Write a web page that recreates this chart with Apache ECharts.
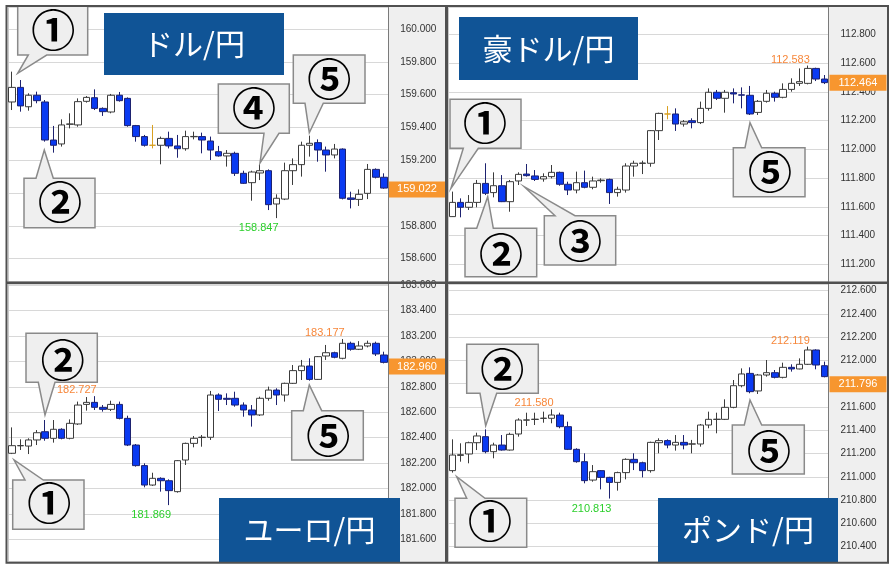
<!DOCTYPE html>
<html><head><meta charset="utf-8">
<script src="https://cdn.jsdelivr.net/npm/echarts@6/dist/echarts.min.js"></script>
<style>html,body{margin:0;padding:0;background:#fff}#c{width:894px;height:566px}</style>
</head><body><div id="c"></div>
<script>
// ---- categories (bar numbers) ----
const bars = ['1','2','3','4','5','6','7','8','9','10','11','12','13','14','15','16','17','18','19','20','21','22','23','24','25','26','27','28','29','30','31','32','33','34','35','36','37','38','39','40','41','42','43','44','45','46'];

// ---- candle values [open, close, low, high] ----
const usdJpy = [
 [159.555,159.644,159.506,159.740],[159.644,159.531,159.496,159.689],[159.526,159.596,159.502,159.608],[159.596,159.563,159.547,159.618],
 [159.555,159.323,159.313,159.567],[159.323,159.291,159.246,159.409],[159.299,159.415,159.283,159.449],[159.419,159.421,159.394,159.486],
 [159.415,159.557,159.404,159.577],[159.559,159.583,159.551,159.591],[159.581,159.516,159.506,159.632],[159.516,159.496,159.470,159.522],
 [159.494,159.596,159.486,159.604],[159.596,159.563,159.557,159.616],[159.577,159.411,159.404,159.583],[159.411,159.344,159.313,159.415],
 [159.344,159.291,159.283,159.354],[159.291,159.291,159.272,159.415],[159.291,159.333,159.175,159.344],[159.333,159.287,159.272,159.374],
 [159.287,159.270,159.215,159.354],[159.270,159.344,159.258,159.380],[159.343,159.345,159.327,159.374],[159.344,159.323,159.242,159.368],
 [159.317,159.262,159.201,159.344],[159.252,159.226,159.222,159.287],[159.226,159.242,159.161,159.262],[159.242,159.120,159.104,159.252],
 [159.120,159.059,159.055,159.136],[159.063,159.128,158.953,159.136],[159.122,159.136,159.079,159.177],[159.136,158.929,158.896,159.144],
 [158.933,158.968,158.847,158.992],[158.963,159.136,158.957,159.185],[159.136,159.173,159.049,159.211],[159.173,159.291,159.100,159.313],
 [159.291,159.303,159.222,159.350],[159.307,159.262,159.191,159.327],[159.262,159.232,159.130,159.283],[159.232,159.268,159.211,159.299],
 [159.268,158.968,158.961,159.272],[158.970,158.961,158.906,159.008],[158.961,158.992,158.921,159.022],[158.998,159.144,158.963,159.177],
 [159.144,159.096,159.089,159.150],[159.096,159.030,159.026,159.120]
];
const audJpy = [
 [111.532,111.631,111.530,111.706],[111.631,111.597,111.527,111.659],[111.597,111.631,111.578,111.682],[111.631,111.763,111.597,111.787],
 [111.763,111.694,111.682,111.903],[111.699,111.747,111.666,111.840],[111.747,111.636,111.633,111.821],[111.636,111.775,111.566,111.787],
 [111.780,111.826,111.752,111.840],[111.828,111.817,111.810,111.898],[111.815,111.791,111.780,111.856],[111.794,111.810,111.775,111.833],
 [111.810,111.840,111.798,111.891],[111.840,111.757,111.747,111.845],[111.757,111.717,111.682,111.775],[111.717,111.768,111.694,111.845],
 [111.768,111.736,111.729,111.852],[111.736,111.780,111.722,111.810],[111.782,111.786,111.768,111.798],[111.791,111.699,111.620,111.796],
 [111.699,111.722,111.671,111.740],[111.717,111.884,111.699,111.903],[111.884,111.903,111.810,111.921],[111.902,111.905,111.828,111.921],
 [111.903,112.130,111.879,112.134],[112.130,112.250,112.065,112.255],[112.246,112.246,112.209,112.301],[112.246,112.176,112.128,112.285],
 [112.176,112.192,112.158,112.204],[112.199,112.186,112.146,112.216],[112.186,112.285,112.176,112.332],[112.285,112.397,112.269,112.424],
 [112.397,112.355,112.343,112.413],[112.355,112.397,112.255,112.413],[112.394,112.385,112.320,112.424],[112.379,112.377,112.285,112.431],
 [112.376,112.246,112.239,112.441],[112.257,112.334,112.239,112.343],[112.334,112.390,112.325,112.413],[112.390,112.362,112.332,112.401],
 [112.362,112.417,112.355,112.459],[112.417,112.459,112.401,112.494],[112.459,112.471,112.441,112.563],[112.459,112.563,112.452,112.583],
 [112.563,112.489,112.475,112.568],[112.489,112.464,112.454,112.517]
];
const eurJpy = [
 [182.277,182.337,182.271,182.481],[182.336,182.338,182.303,182.387],[182.334,182.382,182.271,182.395],[182.382,182.439,182.342,182.460],
 [182.447,182.395,182.376,182.539],[182.395,182.466,182.361,182.539],[182.466,182.395,182.387,182.474],[182.395,182.513,182.387,182.544],
 [182.508,182.657,182.500,182.684],[182.662,182.678,182.613,182.720],[182.678,182.639,182.618,182.727],[182.639,182.623,182.605,182.657],
 [182.623,182.662,182.610,182.691],[182.662,182.552,182.544,182.684],[182.552,182.342,182.334,182.573],[182.342,182.180,182.172,182.350],
 [182.180,182.027,182.009,182.198],[182.027,182.080,182.020,182.124],[182.080,182.061,181.975,182.088],[182.061,181.983,181.869,182.072],
 [181.975,182.219,181.967,182.224],[182.224,182.355,182.185,182.361],[182.355,182.395,182.324,182.413],[182.401,182.404,182.329,182.421],
 [182.403,182.736,182.382,182.768],[182.736,182.702,182.610,182.749],[182.710,182.702,182.657,182.749],[182.710,182.657,182.644,182.762],
 [182.657,182.618,182.565,182.678],[182.618,182.579,182.487,182.657],[182.579,182.710,182.571,182.723],[182.710,182.775,182.691,182.802],
 [182.775,182.736,182.657,182.789],[182.736,182.828,182.684,182.833],[182.828,182.928,182.823,182.972],[182.928,182.964,182.854,183.012],
 [182.964,182.859,182.849,183.025],[182.859,183.038,182.854,183.043],[183.043,183.069,183.012,183.130],[183.069,183.033,183.025,183.077],
 [183.025,183.143,183.017,183.177],[183.143,183.096,183.085,183.156],[183.096,183.122,183.090,183.160],[183.122,183.143,183.111,183.164],
 [183.143,183.059,183.043,183.156],[183.051,182.993,182.985,183.077]
];
const gbpJpy = [
 [211.053,211.187,211.036,211.322],[211.184,211.190,211.130,211.288],[211.196,211.293,211.116,211.302],[211.293,211.351,211.230,211.379],
 [211.345,211.216,211.202,211.408],[211.216,211.273,211.159,211.293],[211.273,211.230,211.225,211.359],[211.230,211.365,211.225,211.379],
 [211.368,211.488,211.345,211.503],[211.487,211.489,211.437,211.551],[211.493,211.495,211.445,211.551],[211.502,211.504,211.465,211.560],
 [211.503,211.531,211.460,211.580],[211.531,211.431,211.417,211.551],[211.431,211.236,211.230,211.474],[211.236,211.130,211.121,211.245],
 [211.130,210.967,210.944,211.202],[210.972,211.044,210.958,211.101],[211.053,210.995,210.892,211.058],[210.995,210.952,210.813,211.000],
 [210.952,211.036,210.881,211.044],[211.036,211.150,210.978,211.159],[211.150,211.121,211.058,211.202],[211.121,211.053,210.995,211.130],
 [211.053,211.296,211.036,211.302],[211.293,211.311,211.202,211.331],[211.311,211.273,211.245,211.322],[211.273,211.296,211.225,211.359],
 [211.296,211.273,211.236,211.359],[211.281,211.283,211.202,211.317],[211.282,211.445,211.259,211.454],[211.445,211.494,211.417,211.560],
 [211.493,211.495,211.374,211.551],[211.494,211.597,211.488,211.666],[211.597,211.783,211.589,211.832],[211.783,211.884,211.769,211.932],
 [211.889,211.732,211.718,211.941],[211.738,211.875,211.712,211.884],[211.875,211.895,211.861,212.004],[211.895,211.855,211.846,211.918],
 [211.855,211.941,211.846,211.981],[211.941,211.927,211.904,211.967],[211.927,211.967,211.924,212.018],[211.967,212.090,211.961,212.119],
 [212.090,211.961,211.924,212.096],[211.955,211.861,211.855,211.990]
];

// ---- texts / values ----
const pairNames = ['ドル/円', '豪ドル/円', 'ユーロ/円', 'ポンド/円'];
const lastPrices = [159.022, 112.464, 182.960, 211.796];
const yMins = [158.4604, 111.0806, 181.4250, 210.2719];
const yMaxs = [160.1311, 112.9867, 183.6100, 212.6573];
const yTickStep = 0.2;
// extreme labels: [panel, bar index, value, kind]
const extremeLabels = [
 [0, 32, 158.847, 'low'],
 [1, 43, 112.583, 'high'],
 [2, 10, 182.727, 'high'], [2, 19, 181.869, 'low'], [2, 40, 183.177, 'high'],
 [3, 12, 211.580, 'high'], [3, 19, 210.813, 'low'], [3, 43, 212.119, 'high']
];
const callNumbers = [['①','②','④','⑤'], ['①','②','③','⑤'], ['②','①','⑤'], ['②','①','⑤']];

// ---- layout ----
const gridBoxes = [
 {left: 7.87, top: 7.5, width: 380.3, height: 274},
 {left: 448.2, top: 7.5, width: 380.3, height: 274},
 {left: 7.87, top: 284, width: 380.3, height: 277.5},
 {left: 448.2, top: 284, width: 380.3, height: 277.5}
];
const datasets = [usdJpy, audJpy, eurJpy, gbpJpy];

const chart = echarts.init(document.getElementById('c'), null, {renderer: 'canvas'});

const grid = [], xAxis = [], yAxis = [], series = [];
for (let i = 0; i < 4; i++) {
  grid.push(Object.assign({containLabel: false}, gridBoxes[i]));
  xAxis.push({
    type: 'category', gridIndex: i, data: bars, boundaryGap: true,
    axisLine: {show: false}, axisTick: {show: false}, axisLabel: {show: false},
    splitLine: {show: true, interval: (idx) => idx === 34, lineStyle: {color: '#c9c9c9', width: 1}}
  });
  yAxis.push({
    type: 'value', gridIndex: i, position: 'right', min: yMins[i], max: yMaxs[i],
    splitNumber: 8, minInterval: yTickStep, maxInterval: yTickStep, scale: true,
    axisLine: {show: true, lineStyle: {color: '#7a7a7a', width: 1}},
    axisTick: {show: false},
    axisLabel: {show: true, margin: 12, color: '#333', fontSize: 10, fontFamily: 'Liberation Sans, Arial',
      showMinLabel: false, showMaxLabel: false, formatter: (v) => v.toFixed(3)},
    splitLine: {show: true, lineStyle: {color: '#d8d8d8', width: 1}}
  });
  const marks = extremeLabels.filter(e => e[0] === i).map(e => {
    const high = e[3] === 'high';
    return {
      coord: [e[1], e[2]],
      label: {
        show: true, formatter: e[2].toFixed(3),
        position: high ? 'top' : 'bottom', distance: high ? 0 : 4,
        align: 'right', offset: [2, 0],
        color: high ? '#f7873a' : '#2ccf2c', fontSize: 11, fontFamily: 'Liberation Sans, Arial'
      }
    };
  });
  series.push({
    type: 'candlestick', xAxisIndex: i, yAxisIndex: i, data: datasets[i],
    barWidth: 7, silent: true, animation: false,
    itemStyle: {color: '#ffffff', color0: '#0a3af2', borderColor: '#3c3c3c', borderColor0: '#1d2270',
      borderColorDoji: '#d9a020', borderWidth: 1},
    markPoint: {symbol: 'circle', symbolSize: 1, silent: true, animation: false,
      itemStyle: {color: 'rgba(0,0,0,0)'}, data: marks}
  });
}

chart.setOption({
  backgroundColor: '#ffffff',
  animation: false,
  textStyle: {fontFamily: 'Liberation Sans, Arial'},
  grid, xAxis, yAxis, series
});

// ---- annotations ----
const g = [];
// axis panels background
[[388.2, 6, 57, 277], [828.5, 6, 59, 277], [388.2, 283, 57, 280], [828.5, 283, 59, 280]].forEach(r => {
  g.push({type: 'rect', z: -10, silent: true, shape: {x: r[0], y: r[1], width: r[2], height: r[3]}, style: {fill: '#efefef'}});
});

// callouts
const calloutBoxes = [
 // TL
 [[17.7, 6, 70, 49], 'bottom', [28.3, 46.7], [17.7, 73.3], [53.3, 30]],
 [[24, 178.3, 71, 49.4], 'top', [36, 53.3], [44.3, 150], [60, 202]],
 [[218.3, 84, 71, 49.3], 'bottom', [264, 279], [260, 163], [254, 108]],
 [[293.3, 55, 71.7, 48.3], 'bottom', [305, 323.3], [309.3, 132.7], [329.3, 79]],
 // TR
 [[450, 99.3, 71, 49], 'bottom', [463.3, 478.3], [451, 188.3], [485, 123.5]],
 [[465, 228.3, 71.7, 48.4], 'top', [476.7, 493.3], [487.7, 196.7], [501, 254]],
 [[544.3, 215.7, 71.4, 49.3], 'top', [555, 575], [524.3, 186.7], [580, 241.5]],
 [[733.3, 147.7, 71.7, 49], 'top', [745, 761.7], [750, 122.7], [770, 172.5]],
 // BL
 [[26, 333.3, 71.3, 49], 'bottom', [38.3, 55], [45, 415], [62.7, 360]],
 [[12.7, 480, 71.3, 49.3], 'top', [25, 43.3], [14, 460], [49.3, 503.5]],
 [[291.7, 410.7, 71.6, 49.3], 'top', [303.3, 321.7], [309.3, 385], [328.3, 436]],
 // BR
 [[466.7, 344.3, 71.6, 49], 'bottom', [480, 496.7], [485.7, 425.7], [502.3, 369]],
 [[455, 498.3, 71.7, 49], 'top', [466.7, 485], [456.7, 476.7], [490, 521]],
 [[732.3, 425, 72, 49], 'top', [744.3, 761.7], [750, 400], [769, 451]]
];
const flatNumbers = [].concat(...callNumbers);
calloutBoxes.forEach((c, k) => {
  const [x, y, w, h] = c[0];
  const [b1, b2] = c[2];
  const tip = c[3];
  let pts;
  if (c[1] === 'bottom') {
    pts = [[x, y], [x + w, y], [x + w, y + h], [b2, y + h], tip, [b1, y + h], [x, y + h]];
  } else {
    pts = [[x, y], [b1, y], tip, [b2, y], [x + w, y], [x + w, y + h], [x, y + h]];
  }
  g.push({type: 'polygon', z: 50, silent: true, shape: {points: pts},
    style: {fill: '#efefef', stroke: '#8a8a8a', lineWidth: 1.5}});
  g.push({type: 'text', z: 51, silent: true, x: c[4][0], y: c[4][1],
    style: {text: flatNumbers[k], align: 'center', verticalAlign: 'middle',
      font: 'bold 44px "Noto Sans CJK JP"', fill: '#000'}});
});

// title boxes
const titleRects = [[104, 13, 180, 62], [459, 17, 179, 63], [219, 498, 181, 64], [658, 498, 180, 64]];
titleRects.forEach((r, i) => {
  g.push({type: 'rect', z: 60, silent: true, shape: {x: r[0], y: r[1], width: r[2], height: r[3]}, style: {fill: '#105496'}});
  g.push({type: 'text', z: 61, silent: true, x: r[0] + r[2] / 2, y: r[1] + r[3] / 2,
    style: {text: pairNames[i], align: 'center', verticalAlign: 'middle',
      font: '30px "Noto Sans CJK JP"', fill: '#ffffff'}});
});

// last price boxes on the axes
const priceBoxX = [[389, 56], [829.5, 57], [389, 56], [829.5, 57]];
lastPrices.forEach((p, i) => {
  const py = chart.convertToPixel({yAxisIndex: i}, p);
  g.push({type: 'rect', z: 70, silent: true, shape: {x: priceBoxX[i][0], y: py - 8, width: priceBoxX[i][1], height: 16},
    style: {fill: '#f7962f'}});
  g.push({type: 'text', z: 71, silent: true, x: priceBoxX[i][0] + priceBoxX[i][1] / 2, y: py,
    style: {text: p.toFixed(3), align: 'center', verticalAlign: 'middle',
      font: '11px "Liberation Sans", Arial', fill: '#ffffff'}});
});

// frames
g.push({type: 'rect', z: 100, silent: true, shape: {x: 6.5, y: 6, width: 881.5, height: 556.8},
  style: {fill: 'none', stroke: '#505050', lineWidth: 2}});
g.push({type: 'line', z: 100, silent: true, shape: {x1: 446.5, y1: 6, x2: 446.5, y2: 563}, style: {stroke: '#505050', lineWidth: 3}});
g.push({type: 'line', z: 100, silent: true, shape: {x1: 6.5, y1: 282.8, x2: 888, y2: 282.8}, style: {stroke: '#505050', lineWidth: 2.5}});

chart.setOption({graphic: {elements: g}});
</script>
</body></html>
